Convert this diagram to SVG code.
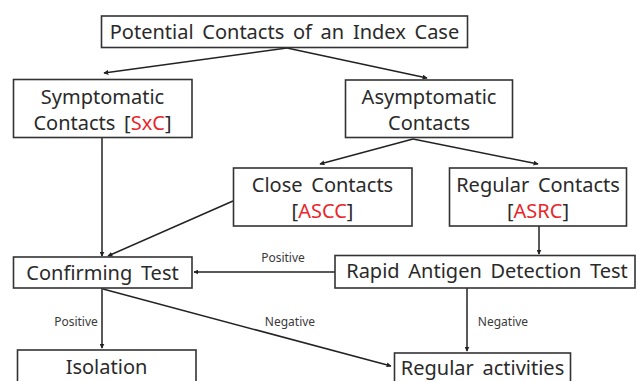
<svg xmlns="http://www.w3.org/2000/svg" width="639" height="381" viewBox="0 0 639 381">
<defs>
<style>
.box{fill:#fff;stroke:#333;stroke-width:1.6}
.t{font-family:"Noto Sans","Open Sans",sans-serif;font-size:20px;fill:#2a2a2a;text-anchor:middle;word-spacing:3.5px}
.r{fill:#e8262b}
.lbl{font-family:"Noto Sans","Open Sans",sans-serif;font-size:12px;fill:#3a3a3a;text-anchor:middle}
.c{stroke:#222;stroke-width:1.5;fill:none;marker-end:url(#ah)}
</style>
<marker id="ah" viewBox="0 0 8 8" refX="7" refY="4" markerWidth="5" markerHeight="5" orient="auto" markerUnits="userSpaceOnUse">
<path d="M0,0 L8,4 L0,8 z" fill="#222"/>
</marker>
</defs>
<rect width="639" height="381" fill="#fff"/>
<g id="connectors">
<line class="c" x1="287" y1="48" x2="104" y2="73"/>
<line class="c" x1="287" y1="48" x2="427" y2="78"/>
<line class="c" x1="102" y1="138" x2="102" y2="256"/>
<line class="c" x1="413" y1="139" x2="320" y2="164"/>
<line class="c" x1="413" y1="139" x2="538" y2="164"/>
<line class="c" x1="233" y1="201" x2="108" y2="256"/>
<line class="c" x1="539" y1="226" x2="539" y2="254"/>
<line class="c" x1="335" y1="272" x2="194" y2="272"/>
<line class="c" x1="102" y1="288" x2="102" y2="348"/>
<line class="c" x1="467" y1="288" x2="467" y2="351"/>
<line class="c" x1="103" y1="289" x2="391" y2="366"/>
<text class="lbl" x="283" y="262">Positive</text>
<text class="lbl" x="76" y="326">Positive</text>
<text class="lbl" x="290" y="326">Negative</text>
<text class="lbl" x="503" y="326">Negative</text>
</g>
<g id="index">
<rect class="box" x="101.5" y="16" width="366" height="31.5"/>
<text class="t" x="284.5" y="39">Potential Contacts of an Index Case</text>
</g>
<g id="symptomatic">
<rect class="box" x="13.5" y="79.5" width="178.5" height="58"/>
<text class="t" x="102.5" y="104">Symptomatic</text>
<text class="t" x="102.5" y="130">Contacts [<tspan class="r">SxC</tspan>]</text>
</g>
<g id="asymptomatic">
<rect class="box" x="345.5" y="80" width="167" height="57.5"/>
<text class="t" x="429" y="104">Asymptomatic</text>
<text class="t" x="429" y="130">Contacts</text>
</g>
<g id="close">
<rect class="box" x="233.5" y="168" width="178.5" height="58"/>
<text class="t" x="322.5" y="192">Close Contacts</text>
<text class="t" x="322.5" y="218">[<tspan class="r">ASCC</tspan>]</text>
</g>
<g id="regular">
<rect class="box" x="449.5" y="168" width="177" height="58"/>
<text class="t" x="538" y="192">Regular Contacts</text>
<text class="t" x="538" y="218">[<tspan class="r">ASRC</tspan>]</text>
</g>
<g id="confirming">
<rect class="box" x="13.5" y="257" width="178.5" height="31"/>
<text class="t" x="102.5" y="280">Confirming Test</text>
</g>
<g id="radt">
<rect class="box" x="335" y="255.5" width="300" height="32.5"/>
<text class="t" x="487" y="278">Rapid Antigen Detection Test</text>
</g>
<g id="isolation">
<rect class="box" x="17.5" y="350" width="178.5" height="40"/>
<text class="t" x="106.5" y="374">Isolation</text>
</g>
<g id="activities">
<rect class="box" x="394.5" y="353" width="176" height="40"/>
<text class="t" x="482.5" y="375">Regular activities</text>
</g>
</svg>
